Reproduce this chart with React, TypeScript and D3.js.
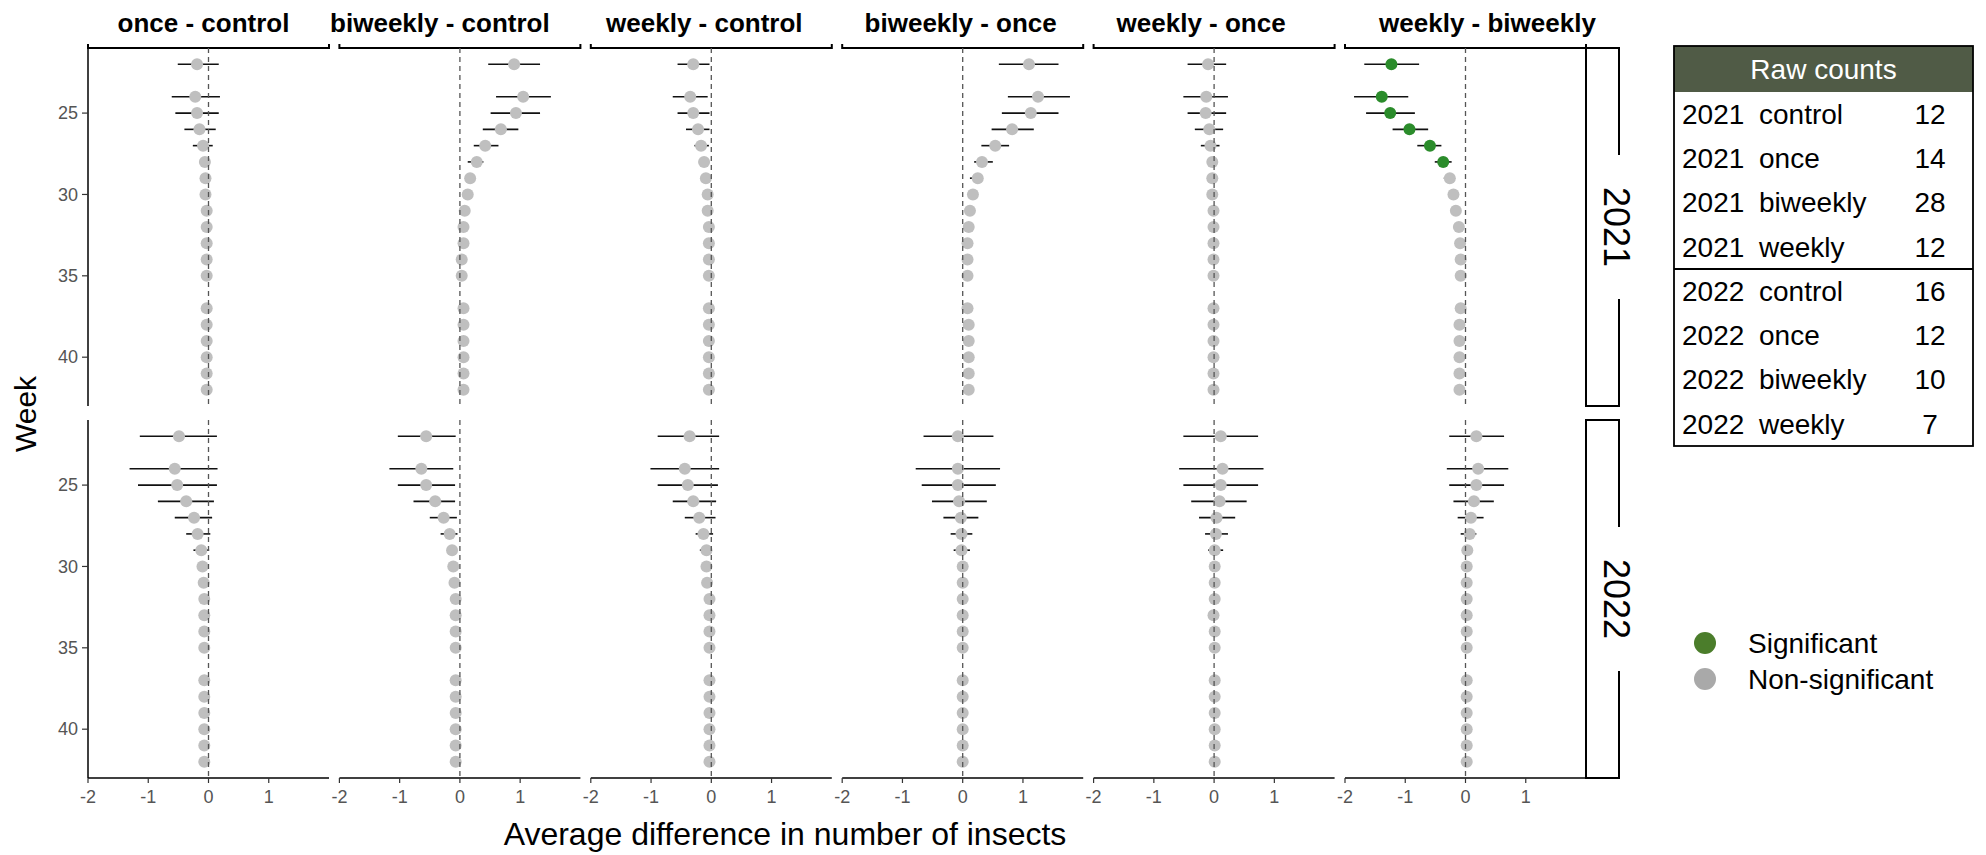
import React from "react";
import * as d3 from "d3";

// ---------- DATA ----------
const weeks = [22, 24, 25, 26, 27, 28, 29, 30, 31, 32, 33, 34, 35, 37, 38, 39, 40, 41, 42];
const comparisons = ["once - control", "biweekly - control", "weekly - control", "biweekly - once", "weekly - once", "weekly - biweekly"];
const years = ["2021", "2022"];
const xTicks = [-2, -1, 0, 1];
const yTicks = [25, 30, 35, 40];

// [estimate, lower, upper] per week
const onceControl2021 = [
  [-0.19, -0.51, 0.17], [-0.22, -0.61, 0.19], [-0.19, -0.55, 0.17], [-0.15, -0.4, 0.12], [-0.09, -0.26, 0.07],
  [-0.06, -0.14, 0.02], [-0.05, -0.1, 0.0], [-0.05, -0.09, -0.01], [-0.03, -0.07, 0.01], [-0.03, -0.06, 0.0],
  [-0.03, -0.06, 0.0], [-0.03, -0.06, 0.0], [-0.03, -0.06, 0.0], [-0.03, -0.06, 0.0], [-0.03, -0.06, 0.0],
  [-0.03, -0.06, 0.0], [-0.03, -0.06, 0.0], [-0.03, -0.06, 0.0], [-0.03, -0.06, 0.0],
];
const onceControl2022 = [
  [-0.49, -1.14, 0.14], [-0.56, -1.31, 0.15], [-0.52, -1.17, 0.14], [-0.37, -0.84, 0.09], [-0.24, -0.56, 0.06],
  [-0.18, -0.37, 0.03], [-0.12, -0.25, 0.01], [-0.1, -0.16, -0.04], [-0.08, -0.13, -0.03], [-0.07, -0.11, -0.03],
  [-0.07, -0.11, -0.03], [-0.07, -0.11, -0.03], [-0.07, -0.11, -0.03], [-0.07, -0.11, -0.03], [-0.07, -0.11, -0.03],
  [-0.07, -0.11, -0.03], [-0.07, -0.11, -0.03], [-0.07, -0.11, -0.03], [-0.07, -0.11, -0.03],
];
const biweeklyControl2021 = [
  [0.9, 0.47, 1.33], [1.05, 0.6, 1.51], [0.93, 0.51, 1.33], [0.68, 0.38, 0.97], [0.42, 0.23, 0.64],
  [0.28, 0.13, 0.39], [0.17, 0.1, 0.25], [0.13, 0.08, 0.18], [0.08, 0.04, 0.12], [0.06, 0.02, 0.1],
  [0.06, 0.02, 0.1], [0.03, 0.0, 0.07], [0.03, 0.0, 0.07], [0.06, 0.02, 0.1], [0.06, 0.02, 0.1],
  [0.06, 0.02, 0.1], [0.06, 0.02, 0.1], [0.06, 0.02, 0.1], [0.06, 0.02, 0.1],
];
const biweeklyControl2022 = [
  [-0.56, -1.03, -0.07], [-0.64, -1.17, -0.11], [-0.56, -1.03, -0.08], [-0.41, -0.77, -0.08], [-0.27, -0.5, -0.05],
  [-0.17, -0.32, -0.04], [-0.13, -0.18, -0.08], [-0.11, -0.16, -0.06], [-0.09, -0.14, -0.05], [-0.07, -0.11, -0.03],
  [-0.07, -0.11, -0.03], [-0.07, -0.11, -0.03], [-0.07, -0.11, -0.03], [-0.07, -0.11, -0.03], [-0.07, -0.11, -0.03],
  [-0.07, -0.11, -0.03], [-0.07, -0.11, -0.03], [-0.07, -0.11, -0.03], [-0.07, -0.11, -0.03],
];
const weeklyControl2021 = [
  [-0.3, -0.56, -0.03], [-0.35, -0.64, -0.06], [-0.3, -0.56, -0.03], [-0.22, -0.42, -0.03], [-0.17, -0.28, -0.04],
  [-0.12, -0.17, -0.07], [-0.09, -0.13, -0.05], [-0.06, -0.1, -0.02], [-0.06, -0.1, -0.02], [-0.04, -0.08, 0.0],
  [-0.04, -0.08, 0.0], [-0.04, -0.08, 0.0], [-0.04, -0.08, 0.0], [-0.04, -0.08, 0.0], [-0.04, -0.08, 0.0],
  [-0.04, -0.08, 0.0], [-0.04, -0.08, 0.0], [-0.04, -0.08, 0.0], [-0.04, -0.08, 0.0],
];
const weeklyControl2022 = [
  [-0.36, -0.89, 0.13], [-0.44, -1.01, 0.13], [-0.39, -0.89, 0.11], [-0.3, -0.64, 0.08], [-0.2, -0.44, 0.07],
  [-0.13, -0.26, 0.03], [-0.08, -0.19, 0.0], [-0.08, -0.12, -0.04], [-0.07, -0.11, -0.03], [-0.03, -0.07, 0.01],
  [-0.03, -0.07, 0.01], [-0.03, -0.07, 0.01], [-0.03, -0.07, 0.01], [-0.03, -0.07, 0.01], [-0.03, -0.07, 0.01],
  [-0.03, -0.07, 0.01], [-0.03, -0.07, 0.01], [-0.03, -0.07, 0.01], [-0.03, -0.07, 0.01],
];
const biweeklyOnce2021 = [
  [1.1, 0.6, 1.59], [1.25, 0.75, 1.78], [1.13, 0.65, 1.59], [0.82, 0.48, 1.18], [0.54, 0.31, 0.77],
  [0.32, 0.19, 0.5], [0.25, 0.12, 0.32], [0.17, 0.12, 0.22], [0.12, 0.08, 0.16], [0.1, 0.06, 0.14],
  [0.08, 0.04, 0.12], [0.08, 0.04, 0.12], [0.08, 0.04, 0.12], [0.08, 0.04, 0.12], [0.1, 0.06, 0.14],
  [0.1, 0.06, 0.14], [0.1, 0.06, 0.14], [0.1, 0.06, 0.14], [0.1, 0.06, 0.14],
];
const biweeklyOnce2022 = [
  [-0.08, -0.65, 0.51], [-0.08, -0.78, 0.62], [-0.08, -0.68, 0.55], [-0.06, -0.51, 0.4], [-0.03, -0.32, 0.26],
  [-0.02, -0.2, 0.16], [-0.02, -0.15, 0.12], [0.0, -0.04, 0.04], [0.0, -0.04, 0.04], [0.0, -0.04, 0.04],
  [0.0, -0.04, 0.04], [0.0, -0.04, 0.04], [0.0, -0.04, 0.04], [0.0, -0.04, 0.04], [0.0, -0.04, 0.04],
  [0.0, -0.04, 0.04], [0.0, -0.04, 0.04], [0.0, -0.04, 0.04], [0.0, -0.04, 0.04],
];
const weeklyOnce2021 = [
  [-0.1, -0.44, 0.2], [-0.13, -0.51, 0.23], [-0.14, -0.44, 0.2], [-0.08, -0.32, 0.15], [-0.06, -0.22, 0.09],
  [-0.03, -0.08, 0.02], [-0.03, -0.07, 0.01], [-0.03, -0.07, 0.01], [-0.01, -0.05, 0.03], [-0.01, -0.05, 0.03],
  [-0.01, -0.05, 0.03], [-0.01, -0.05, 0.03], [-0.01, -0.05, 0.03], [-0.01, -0.05, 0.03], [-0.01, -0.05, 0.03],
  [-0.01, -0.05, 0.03], [-0.01, -0.05, 0.03], [-0.01, -0.05, 0.03], [-0.01, -0.05, 0.03],
];
const weeklyOnce2022 = [
  [0.11, -0.51, 0.73], [0.14, -0.58, 0.82], [0.11, -0.51, 0.73], [0.09, -0.38, 0.54], [0.04, -0.25, 0.35],
  [0.03, -0.15, 0.23], [0.01, -0.1, 0.15], [0.01, -0.03, 0.05], [0.01, -0.03, 0.05], [0.01, -0.03, 0.05],
  [-0.01, -0.05, 0.03], [0.01, -0.03, 0.05], [0.01, -0.03, 0.05], [0.01, -0.03, 0.05], [0.01, -0.03, 0.05],
  [0.01, -0.03, 0.05], [0.01, -0.03, 0.05], [0.01, -0.03, 0.05], [0.01, -0.03, 0.05],
];
const weeklyBiweekly2021 = [
  [-1.23, -1.68, -0.77], [-1.39, -1.85, -0.95], [-1.25, -1.65, -0.84], [-0.93, -1.21, -0.62], [-0.59, -0.8, -0.4],
  [-0.37, -0.51, -0.23], [-0.26, -0.36, -0.2], [-0.2, -0.25, -0.15], [-0.16, -0.2, -0.12], [-0.11, -0.15, -0.07],
  [-0.09, -0.13, -0.05], [-0.08, -0.12, -0.04], [-0.08, -0.12, -0.04], [-0.08, -0.12, -0.04], [-0.1, -0.14, -0.06],
  [-0.1, -0.14, -0.06], [-0.1, -0.14, -0.06], [-0.1, -0.14, -0.06], [-0.1, -0.14, -0.06],
];
const weeklyBiweekly2022 = [
  [0.18, -0.27, 0.64], [0.21, -0.31, 0.71], [0.18, -0.27, 0.64], [0.14, -0.2, 0.47], [0.09, -0.13, 0.3],
  [0.07, -0.08, 0.18], [0.03, -0.02, 0.08], [0.02, -0.02, 0.06], [0.02, -0.02, 0.06], [0.02, -0.02, 0.06],
  [0.02, -0.02, 0.06], [0.02, -0.02, 0.06], [0.02, -0.02, 0.06], [0.02, -0.02, 0.06], [0.02, -0.02, 0.06],
  [0.02, -0.02, 0.06], [0.02, -0.02, 0.06], [0.02, -0.02, 0.06], [0.02, -0.02, 0.06],
];
// significant weeks (only weekly - biweekly 2021)
const significantWeeklyBiweekly2021 = [22, 24, 25, 26, 27, 28];

const tableYears = ["2021", "2021", "2021", "2021", "2022", "2022", "2022", "2022"];
const tableTreatments = ["control", "once", "biweekly", "weekly", "control", "once", "biweekly", "weekly"];
const tableCounts = [12, 14, 28, 12, 16, 12, 10, 7];
const legendLabels = ["Significant", "Non-significant"];

const series: number[][][][] = [
  [onceControl2021, onceControl2022],
  [biweeklyControl2021, biweeklyControl2022],
  [weeklyControl2021, weeklyControl2022],
  [biweeklyOnce2021, biweeklyOnce2022],
  [weeklyOnce2021, weeklyOnce2022],
  [weeklyBiweekly2021, weeklyBiweekly2022],
];
const isSignificant = (ci: number, yi: number, week: number) =>
  ci === 5 && yi === 0 && significantWeeklyBiweekly2021.includes(week);

// ---------- LAYOUT ----------
const W = 1986;
const H = 855;
const FONT = "'Liberation Sans', Arial, sans-serif";
const panelLeft0 = 88;
const panelPitch = 251.4;
const panelW = 241;
const rowTops = [48, 420];
const rowH = 358;
const titleOffsets = [-5, -20, -7, -2, -13, 22];
const stripX = 1586;
const stripW = 33;
const tableX = 1674;
const tableW = 299;
const tableTop = 46;
const headerH = 46;
const rowHeight = 44.25;

const GREY_PT = "#bfbfbf";
const GREEN_PT = "#2b8c2b";
const LEG_GREEN = "#4b7d2b";
const LEG_GREY = "#a9a9a9";

export default function App() {
  const x = d3.scaleLinear().domain([-2, 2]).range([0, panelW]);
  const yScales = rowTops.map((t) => d3.scaleLinear().domain([21, 43]).range([t, t + rowH]));

  return (
    <svg
      width={W}
      height={H}
      viewBox={`0 0 ${W} ${H}`}
      style={{ position: "absolute", left: 0, top: 0, display: "block", background: "#fff" }}
      fontFamily={FONT}
    >
      <rect x={0} y={0} width={W} height={H} fill="#fff" />

      {comparisons.map((comp, ci) => {
        const left = panelLeft0 + ci * panelPitch;
        return (
          <g key={comp} transform={`translate(${left},0)`}>
            {/* strip title */}
            <text
              x={panelW / 2 + titleOffsets[ci]}
              y={32}
              textAnchor="middle"
              fontSize={26}
              fontWeight="bold"
              fill="#000"
            >
              {comp}
            </text>
            <path d={`M0,44 V48 H${panelW} V44`} fill="none" stroke="#000" strokeWidth={2} />

            {years.map((yr, yi) => {
              const y = yScales[yi];
              const data = series[ci][yi];
              const top = rowTops[yi];
              return (
                <g key={yr}>
                  {data.map((d, wi) => (
                    <line
                      key={"e" + wi}
                      x1={x(d[1])}
                      x2={x(d[2])}
                      y1={y(weeks[wi])}
                      y2={y(weeks[wi])}
                      stroke="#111"
                      strokeWidth={1.6}
                    />
                  ))}
                  {data.map((d, wi) => (
                    <circle
                      key={"p" + wi}
                      cx={x(d[0])}
                      cy={y(weeks[wi])}
                      r={6}
                      fill={isSignificant(ci, yi, weeks[wi]) ? GREEN_PT : GREY_PT}
                    />
                  ))}
                  <line
                    x1={x(0)}
                    x2={x(0)}
                    y1={top}
                    y2={top + rowH}
                    stroke="#555"
                    strokeWidth={1.3}
                    strokeDasharray="5,4"
                  />
                </g>
              );
            })}

            {/* bottom x axis */}
            <line x1={0} x2={panelW} y1={rowTops[1] + rowH} y2={rowTops[1] + rowH} stroke="#000" strokeWidth={1.5} />
            {xTicks.map((t) => (
              <g key={t} transform={`translate(${x(t)},${rowTops[1] + rowH})`}>
                <line y1={0} y2={5} stroke="#333" strokeWidth={1.2} />
                <text y={25} textAnchor="middle" fontSize={18} fill="#555">
                  {t}
                </text>
              </g>
            ))}
          </g>
        );
      })}

      {/* y axes (first column only) */}
      {years.map((yr, yi) => {
        const y = yScales[yi];
        return (
          <g key={"ya" + yr}>
            <line x1={panelLeft0} x2={panelLeft0} y1={rowTops[yi]} y2={rowTops[yi] + rowH} stroke="#000" strokeWidth={1.5} />
            {yTicks.map((t) => (
              <g key={t} transform={`translate(${panelLeft0},${y(t)})`}>
                <line x1={-6} x2={0} stroke="#333" strokeWidth={1.2} />
                <text x={-10} dy="0.35em" textAnchor="end" fontSize={18} fill="#555">
                  {t}
                </text>
              </g>
            ))}
          </g>
        );
      })}

      {/* right strips */}
      {years.map((yr, yi) => {
        const t = rowTops[yi];
        const mid = t + rowH / 2;
        const gap = 72;
        const r = stripX + stripW;
        return (
          <g key={"rs" + yr}>
            <path
              d={`M${r},${mid - gap} V${t} H${stripX} V${t + rowH} H${r} V${mid + gap}`}
              fill="none"
              stroke="#000"
              strokeWidth={2}
            />
            <text
              transform={`translate(${r - 2},${mid}) rotate(90)`}
              textAnchor="middle"
              dy="0.35em"
              fontSize={36}
              fill="#000"
            >
              {yr}
            </text>
          </g>
        );
      })}

      {/* axis titles */}
      <text x={785} y={845} textAnchor="middle" fontSize={32} fill="#000">
        Average difference in number of insects
      </text>
      <text transform={`translate(36,414) rotate(-90)`} textAnchor="middle" fontSize={30} fill="#000">
        Week
      </text>

      {/* raw counts table */}
      <g>
        <rect x={tableX} y={tableTop} width={tableW} height={headerH} fill="#505b46" />
        <text x={tableX + tableW / 2} y={tableTop + headerH / 2} dy="0.35em" textAnchor="middle" fontSize={28} fill="#fff">
          Raw counts
        </text>
        {tableCounts.map((c, i) => {
          const cy = tableTop + headerH + rowHeight * (i + 0.5);
          return (
            <g key={"tr" + i}>
              <text x={tableX + 8} y={cy} dy="0.35em" fontSize={28} fill="#000">
                {tableYears[i]}
              </text>
              <text x={tableX + 85} y={cy} dy="0.35em" fontSize={28} fill="#000">
                {tableTreatments[i]}
              </text>
              <text x={tableX + 256} y={cy} dy="0.35em" textAnchor="middle" fontSize={28} fill="#000">
                {c}
              </text>
            </g>
          );
        })}
        <line
          x1={tableX}
          x2={tableX + tableW}
          y1={tableTop + headerH + rowHeight * 4}
          y2={tableTop + headerH + rowHeight * 4}
          stroke="#000"
          strokeWidth={1.8}
        />
        <rect
          x={tableX}
          y={tableTop}
          width={tableW}
          height={headerH + rowHeight * 8}
          fill="none"
          stroke="#000"
          strokeWidth={1.8}
        />
      </g>

      {/* legend */}
      {legendLabels.map((lab, i) => (
        <g key={lab} transform={`translate(1705,${643 + i * 36})`}>
          <circle r={11} fill={i === 0 ? LEG_GREEN : LEG_GREY} />
          <text x={43} dy="0.35em" fontSize={28} fill="#000">
            {lab}
          </text>
        </g>
      ))}
    </svg>
  );
}
